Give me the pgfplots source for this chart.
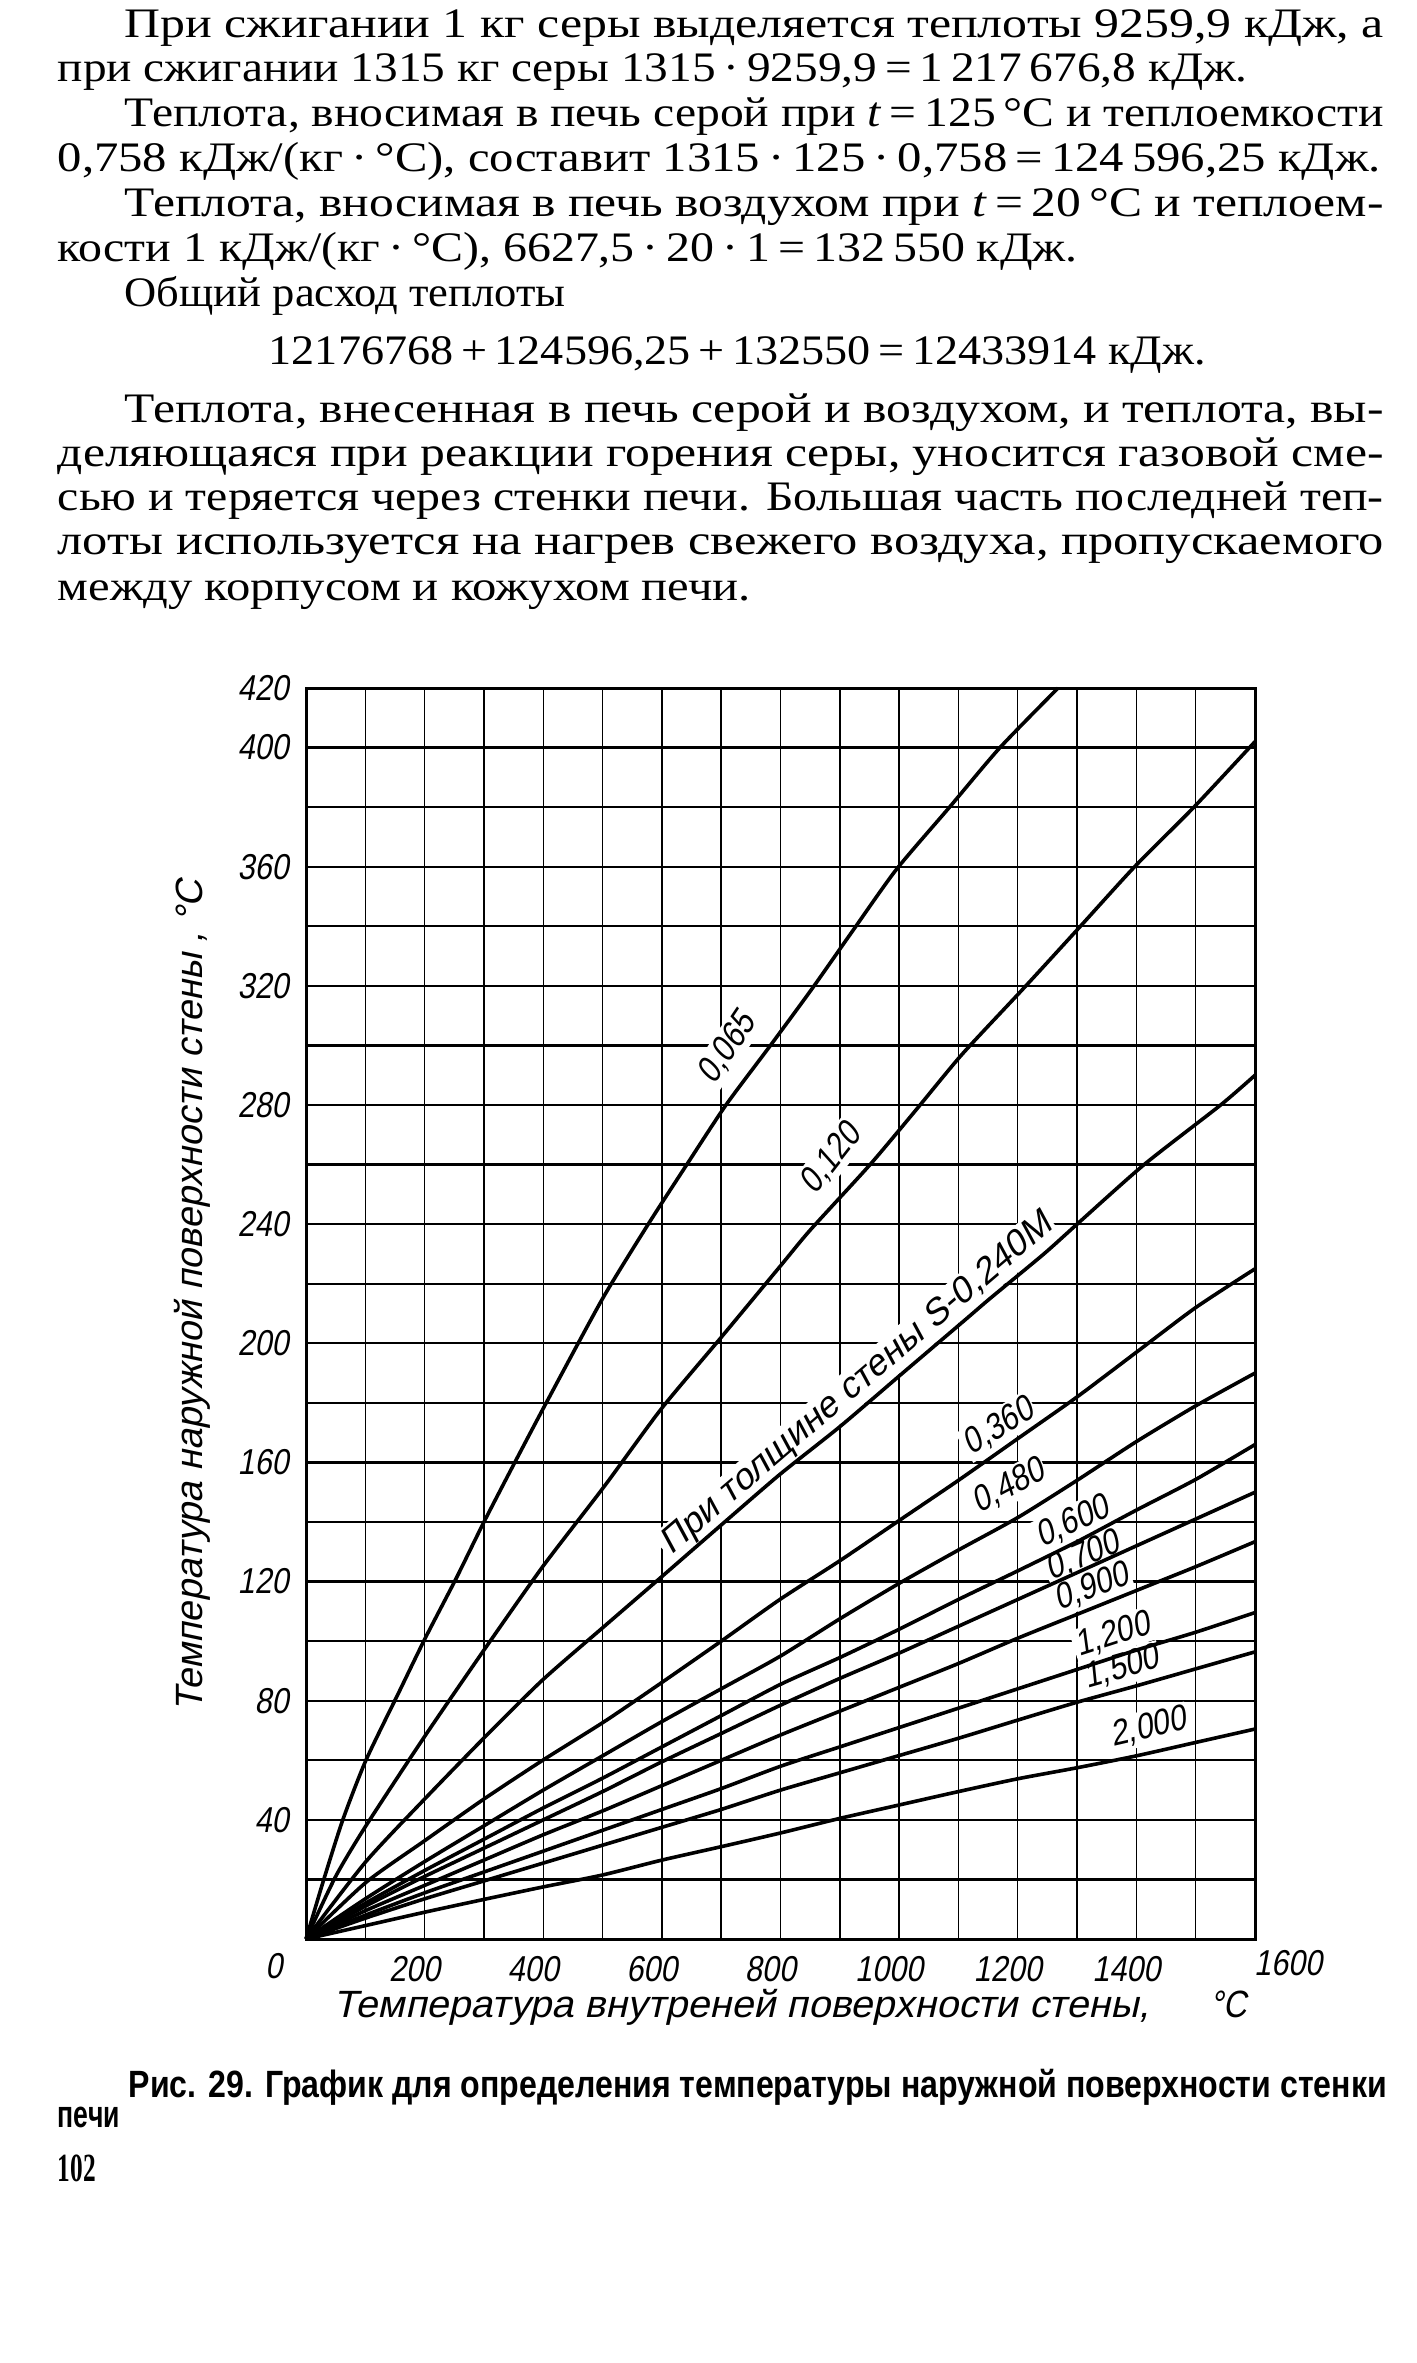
\documentclass[border=0pt]{standalone}
\usepackage{graphicx}
\usepackage{pgfplots}
\pgfplotsset{compat=1.18}
\usepackage{fontspec}
\setmainfont{Liberation Serif}
\newfontfamily\dfont[FakeSlant=0.18,FakeStretch=0.85]{Liberation Sans}
\newfontfamily\cfont[FakeStretch=0.85]{Liberation Sans}
\newcommand\fitto[2]{\resizebox{#1}{\height}{#2}}
\newcommand\bt{\fontsize{10.5}{12}\selectfont}
\newcommand\lf{\dfont\fontsize{9}{10}\selectfont}
\begin{document}
\begin{tikzpicture}
\useasboundingbox (0pt,0pt) rectangle (354pt,-590.75pt);
\begin{scope}[x=0.25pt,y=-0.25pt]
\node[anchor=base west,inner sep=0] at (124,38) {\fitto{314.75pt}{\bt При сжигании 1 кг серы выделяется теплоты 9259,9 кДж, а}};
\node[anchor=base west,inner sep=0] at (57,82) {\fitto{297.5pt}{\bt при сжигании 1315 кг серы 1315\,·\,9259,9\,=\,1\,217\,676,8 кДж.}};
\node[anchor=base west,inner sep=0] at (124,127) {\fitto{314.75pt}{\bt Теплота, вносимая в печь серой при \textit{t}\,=\,125\,°C и теплоемкости}};
\node[anchor=base west,inner sep=0] at (57,172) {\fitto{330.75pt}{\bt 0,758 кДж/(кг\,·\,°C), составит 1315\,·\,125\,·\,0,758\,=\,124\,596,25 кДж.}};
\node[anchor=base west,inner sep=0] at (124,217) {\fitto{314.75pt}{\bt Теплота, вносимая в печь воздухом при \textit{t}\,=\,20\,°C и теплоем-}};
\node[anchor=base west,inner sep=0] at (57,262) {\fitto{255pt}{\bt кости 1 кДж/(кг\,·\,°C), 6627,5\,·\,20\,·\,1\,=\,132\,550 кДж.}};
\node[anchor=base west,inner sep=0] at (124,307) {\fitto{110.25pt}{\bt Общий расход теплоты}};
\node[anchor=base west,inner sep=0] at (268,365) {\fitto{234.25pt}{\bt 12176768\,+\,124596,25\,+\,132550\,=\,12433914 кДж.}};
\node[anchor=base west,inner sep=0] at (124,423) {\fitto{314.75pt}{\bt Теплота, внесенная в печь серой и воздухом, и теплота, вы-}};
\node[anchor=base west,inner sep=0] at (57,467) {\fitto{331.5pt}{\bt деляющаяся при реакции горения серы, уносится газовой сме-}};
\node[anchor=base west,inner sep=0] at (57,511) {\fitto{331.5pt}{\bt сью и теряется через стенки печи. Большая часть последней теп-}};
\node[anchor=base west,inner sep=0] at (57,555) {\fitto{331.5pt}{\bt лоты используется на нагрев свежего воздуха, пропускаемого}};
\node[anchor=base west,inner sep=0] at (57,600) {\fitto{173.25pt}{\bt между корпусом и кожухом печи.}};
\node[anchor=base west,inner sep=0] at (128,2097) {\fitto{314.5pt}{\cfont\bfseries\fontsize{9.5}{11}\selectfont Рис. 29. График для определения температуры наружной поверхности стенки}};
\node[anchor=base west,inner sep=0] at (57,2127) {\fitto{15.5pt}{\cfont\bfseries\fontsize{9.5}{11}\selectfont печи}};
\node[anchor=base west,inner sep=0] at (57,2181) {\fitto{9.5pt}{\bfseries\fontsize{10}{11}\selectfont 102}};
\end{scope}
\begin{axis}[
  at={(76.5pt,-484.75pt)}, anchor=south west,
  width=237.25pt, height=312.75pt, scale only axis,
  xmin=0, xmax=1600, ymin=0, ymax=420,
  xtick={100,200,...,1500},
  xticklabels={{},200,{},400,{},600,{},800,{},1000,{},1200,{},1400,{}},
  ytick={40,80,...,400,420},
  minor ytick={20,40,...,400},
  xmajorgrids=true, xminorgrids=false, ymajorgrids=false, yminorgrids=true,
  major grid style={black, line width=0.35pt},
  minor grid style={black, line width=0.55pt},
  major tick length=0pt, minor tick length=0pt,
  axis line style={black, line width=0.75pt},
  ticklabel style={font=\dfont\fontsize{9}{10}\selectfont},
  /pgf/number format/assume math mode=true,
  /pgf/number format/1000 sep={},
  xticklabel style={anchor=center, yshift=-7.5pt, xshift=-2.5pt},
  yticklabel style={anchor=east, xshift=-0.8pt},
  clip=false,
]
% curve labels (white background breaks the grid as in the original)
\node[rotate=56, fill=white, inner sep=0.6pt, font=\lf] at (axis cs:710,299) {0,065};
\node[rotate=52, fill=white, inner sep=0.6pt, font=\lf] at (axis cs:885,262) {0,120};
\node[rotate=40.5, fill=white, inner sep=0.6pt] at (axis cs:929,186) {\fitto{126pt}{\lf При толщине стены S-0,240M}};
\node[rotate=32, fill=white, inner sep=0.6pt, font=\lf] at (axis cs:1168,172) {0,360};
\node[rotate=28, fill=white, inner sep=0.6pt, font=\lf] at (axis cs:1185,152) {0,480};
\node[rotate=25, fill=white, inner sep=0.6pt, font=\lf] at (axis cs:1293,140) {0,600};
\node[rotate=23, fill=white, inner sep=0.6pt, font=\lf] at (axis cs:1310,128.5) {0,700};
\node[rotate=21, fill=white, inner sep=0.6pt, font=\lf] at (axis cs:1325,118) {0,900};
\node[rotate=18, fill=white, inner sep=0.6pt, font=\lf] at (axis cs:1360,102) {1,200};
\node[rotate=16, fill=white, inner sep=0.6pt, font=\lf] at (axis cs:1375,91) {1,500};
\node[rotate=13, fill=white, inner sep=0.6pt, font=\lf] at (axis cs:1420,71) {2,000};
% curves
\addplot[black, line width=0.9pt, smooth, tension=0.4] coordinates {(0,0) (30,20) (62,40) (101,60) (157,83) (201,101) (253,121) (300,140) (352,160) (405,180) (500,215) (577,240) (642,260) (708,280) (783,300) (853,319) (920,338) (995,359) (1085,380) (1170,400) (1268,420)};
\addplot[black, line width=0.9pt, smooth, tension=0.4] coordinates {(0,0) (50,21) (101,38) (200,68) (300,97) (399,125) (503,152) (599,178) (700,202) (800,226) (850,238) (951,260) (1027,278) (1106,297) (1209,319) (1301,339) (1397,360) (1497,380) (1600,402)};
\addplot[black, line width=0.9pt, smooth, tension=0.4] coordinates {(0,0) (101,26) (200,47) (300,67.5) (399,87) (503,105) (596,121) (700,139) (799,156) (900,172) (1000,189) (1112,208) (1153,215) (1244,230) (1300,240) (1413,260) (1542,280) (1600,290)};
\addplot[black, line width=0.9pt, smooth, tension=0.4] coordinates {(0,0) (101,19) (200,33) (300,47) (399,60) (503,73) (599,86) (700,100) (799,114) (900,127) (1000,140.5) (1100,154) (1200,168) (1300,182) (1400,197) (1500,212) (1600,225)};
\addplot[black, line width=0.9pt, smooth, tension=0.4] coordinates {(0,0) (100,13.5) (200,26) (300,38) (400,50) (500,61.5) (600,73) (700,84) (800,95) (900,107.5) (1000,119.4) (1100,130.6) (1200,141.5) (1300,154) (1400,167) (1500,179) (1600,190)};
\addplot[black, line width=0.9pt, smooth, tension=0.4] coordinates {(0,0) (100,12) (200,23) (300,33.5) (400,44) (500,54) (600,64.5) (700,75) (800,85.5) (900,94.5) (1000,104) (1100,114) (1200,123.6) (1300,133.4) (1400,144) (1500,154.3) (1600,166)};
\addplot[black, line width=0.9pt, smooth, tension=0.4] coordinates {(0,0) (100,11) (200,21) (300,30.5) (400,40) (500,49.5) (600,59.5) (700,69) (800,78.5) (900,87.5) (1000,96) (1100,105) (1200,114) (1300,123) (1400,132) (1500,141) (1600,150)};
\addplot[black, line width=0.9pt, smooth, tension=0.4] coordinates {(0,0) (100,9.5) (200,18) (300,26.5) (400,35) (500,43) (600,51.5) (700,60) (800,68.5) (900,76.5) (1000,84.5) (1100,92.5) (1200,101) (1300,109) (1400,117) (1500,125) (1600,133.4)};
\addplot[black, line width=0.9pt, smooth, tension=0.4] coordinates {(0,0) (100,8) (200,15.5) (300,22.5) (400,29.5) (500,36.5) (600,43.5) (700,50.5) (800,58) (900,64.5) (1000,71) (1100,77.5) (1200,84) (1300,90.5) (1400,97) (1500,103) (1600,109.6)};
\addplot[black, line width=0.9pt, smooth, tension=0.4] coordinates {(0,0) (100,7) (200,13.5) (300,19.5) (400,25.5) (500,31.5) (600,37.5) (700,43.5) (800,50) (900,55.8) (1000,61.6) (1100,67.4) (1200,73.5) (1300,79.5) (1400,85) (1500,90.7) (1600,96.4)};
\addplot[black, line width=0.9pt, smooth, tension=0.4] coordinates {(0,0) (100,4.5) (200,9) (300,13.3) (400,17.5) (500,21.5) (600,26.5) (700,31) (800,35.6) (900,40.5) (1000,45) (1100,49.5) (1200,53.8) (1300,57.5) (1400,61.5) (1500,66) (1600,70.5)};
% extra tick-like labels and axis titles
\node[font=\dfont\fontsize{9}{10}\selectfont] at (axis cs:-54,-9) {0};
\node[font=\dfont\fontsize{9}{10}\selectfont] at (axis cs:1656,-8) {1600};
\node at (axis cs:735,-23) {\fitto{204pt}{\dfont\fontsize{9.5}{10}\selectfont Температура внутреней поверхности стены,}};
\node[font=\dfont\fontsize{9.5}{10}\selectfont] at (axis cs:1555,-22) {°C};
\node[rotate=90] at (axis cs:-192,216) {\fitto{208pt}{\dfont\fontsize{9.5}{10}\selectfont Температура наружной поверхности стены , °C}};
\end{axis}
\end{tikzpicture}
\end{document}
